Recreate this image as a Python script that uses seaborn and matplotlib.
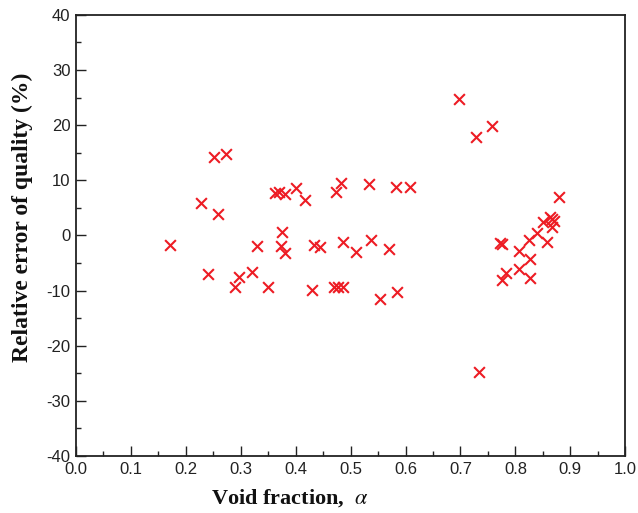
import matplotlib
matplotlib.use('Agg')
import matplotlib.pyplot as plt
import seaborn as sns
import pandas as pd
from matplotlib.ticker import MultipleLocator

# void fraction and relative error of quality (%)
void_fraction = [
    0.172, 0.228, 0.240, 0.252, 0.258, 0.273, 0.290, 0.297, 0.320, 0.329,
    0.350, 0.362, 0.370, 0.373, 0.376, 0.381, 0.381, 0.400, 0.417, 0.430,
    0.434, 0.444, 0.469, 0.473, 0.478, 0.482, 0.486, 0.487, 0.509, 0.534,
    0.538, 0.554, 0.570, 0.582, 0.585, 0.609, 0.698, 0.729, 0.734, 0.758,
    0.772, 0.775, 0.776, 0.783, 0.807, 0.807, 0.824, 0.826, 0.826, 0.840,
    0.850, 0.858, 0.863, 0.867, 0.871, 0.866, 0.880,
]
rel_error = [
    -1.8, 5.9, -7.0, 14.3, 3.9, 14.8, -9.3, -7.5, -6.6, -2.0,
    -9.4, 7.7, 7.8, -1.9, 0.6, -3.2, 7.5, 8.6, 6.5, -9.9,
    -1.7, -2.1, -9.3, 7.9, -9.3, 9.5, -9.4, -1.1, -3.0, 9.3,
    -0.8, -11.6, -2.5, 8.7, -10.2, 8.8, 24.8, 17.8, -24.7, 19.8,
    -1.3, -1.5, -8.0, -6.8, -2.8, -6.0, -0.9, -4.3, -7.7, 0.4,
    2.5, -1.2, 3.3, 2.9, 2.7, 1.5, 7.0,
]

df = pd.DataFrame({'alpha': void_fraction, 'err': rel_error})

sns.set_style('ticks')
plt.rcParams['font.family'] = ['Liberation Sans', 'DejaVu Sans']
plt.rcParams['axes.unicode_minus'] = False
plt.rcParams['mathtext.fontset'] = 'stix'

fig = plt.figure(figsize=(6.38, 5.13), dpi=100)
ax = fig.add_axes([0.119, 0.111, 0.861, 0.860])

sns.scatterplot(data=df, x='alpha', y='err', marker='x', s=60,
                color='#ED1C24', linewidth=1.5, ax=ax, zorder=3)

ax.set_xlim(0, 1.0)
ax.set_ylim(-40, 40)
ax.xaxis.set_major_locator(MultipleLocator(0.1))
ax.xaxis.set_minor_locator(MultipleLocator(0.05))
ax.yaxis.set_major_locator(MultipleLocator(10))
ax.yaxis.set_minor_locator(MultipleLocator(5))
ax.xaxis.set_major_formatter(plt.FormatStrFormatter('%.1f'))

ax.tick_params(which='both', direction='in', top=False, right=False,
               width=1.0, color='#222222')
ax.tick_params(which='major', length=7, labelsize=12, labelcolor='#222222', pad=4)
ax.tick_params(which='minor', length=3.5)
for side in ax.spines.values():
    side.set_linewidth(1.3)
    side.set_color('#222222')
    side.set_visible(True)

ax.set_xlabel('Void fraction,  $\\mathit{\\alpha}$', fontsize=16,
              fontweight='bold', family='Liberation Serif', color='#111111')
ax.set_ylabel('Relative error of quality (%)', fontsize=17,
              fontweight='bold', family='Liberation Serif', color='#111111')
ax.xaxis.set_label_coords(0.39, -0.07)
ax.yaxis.set_label_coords(-0.079, 0.542)

fig.savefig('out.png', dpi=100)
